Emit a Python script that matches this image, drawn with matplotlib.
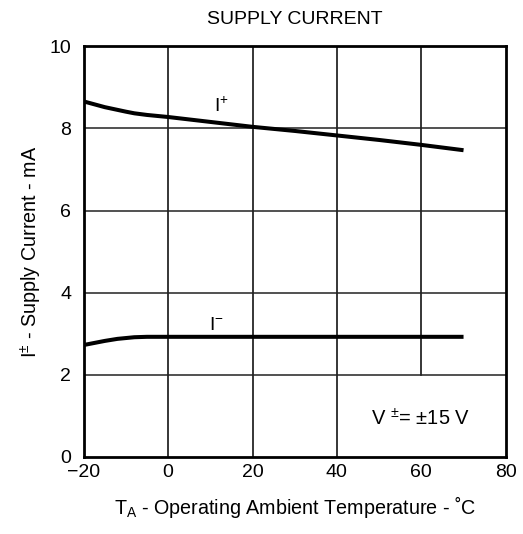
import matplotlib
matplotlib.use("Agg")
import matplotlib.pyplot as plt

# temperature (C) and supply currents (mA)
temp_pos = [-20, -15, -10, -8, -5, 0, 10, 20, 30, 40, 50, 60, 70]
i_pos = [8.66, 8.52, 8.41, 8.37, 8.33, 8.28, 8.16, 8.04, 7.94, 7.83, 7.72, 7.60, 7.47]

temp_neg = [-20, -17, -15, -12, -10, -8, -5, 0, 20, 40, 60, 70]
i_neg = [2.72, 2.78, 2.82, 2.87, 2.89, 2.91, 2.92, 2.92, 2.92, 2.92, 2.92, 2.92]

x_ticks = [-20, 0, 20, 40, 60, 80]
x_labels = ['\u221220', '0', '20', '40', '60', '80']
y_ticks = [0, 2, 4, 6, 8, 10]

plt.rcParams['font.family'] = ['Liberation Sans', 'DejaVu Sans']
plt.rcParams['mathtext.fontset'] = 'custom'
plt.rcParams['mathtext.rm'] = 'Liberation Sans'
plt.rcParams['mathtext.it'] = 'Liberation Sans'

fig = plt.figure(figsize=(5.23, 5.34), dpi=100)
ax = fig.add_axes([0.160, 0.145, 0.807, 0.768])

# grid, the 60 line stops above the annotation box
for x in [0, 20, 40]:
    ax.axvline(x, color='black', lw=1.1, zorder=1)
ax.axvline(60, ymin=0.2, color='black', lw=1.1, zorder=1)
for y in [2, 4, 6, 8]:
    ax.axhline(y, color='#222222', lw=1.1, zorder=1)

ax.plot(temp_pos, i_pos, color='black', lw=2.9, solid_capstyle='butt', zorder=3)
ax.plot(temp_neg, i_neg, color='black', lw=2.9, solid_capstyle='butt', zorder=3)

ax.text(10.9, 8.41, r'I$^{+}$', fontsize=14)
ax.text(9.6, 3.09, r'I$^{-}$', fontsize=14)
ax.text(48.1, 0.77, 'V $^{\\pm}$= \u00b115 V', fontsize=14.5)

ax.set_xlim(-20, 80)
ax.set_ylim(0, 10)
ax.set_xticks(x_ticks)
ax.set_xticklabels(x_labels)
ax.set_yticks(y_ticks)
ax.tick_params(length=0, labelsize=14)
ax.tick_params(axis='x', pad=5)
ax.tick_params(axis='y', pad=9)
for s in ax.spines.values():
    s.set_linewidth(2.0)

ax.set_title('SUPPLY CURRENT', fontsize=14, pad=16)
ax.set_xlabel('T$_{\\mathregular{A}}$ - Operating Ambient Temperature - \u02daC',
              fontsize=14.2, labelpad=10)
ax.set_ylabel('I$^{\\pm}$ - Supply Current - mA', fontsize=14.2, labelpad=4)

fig.savefig('out.png', dpi=100)
